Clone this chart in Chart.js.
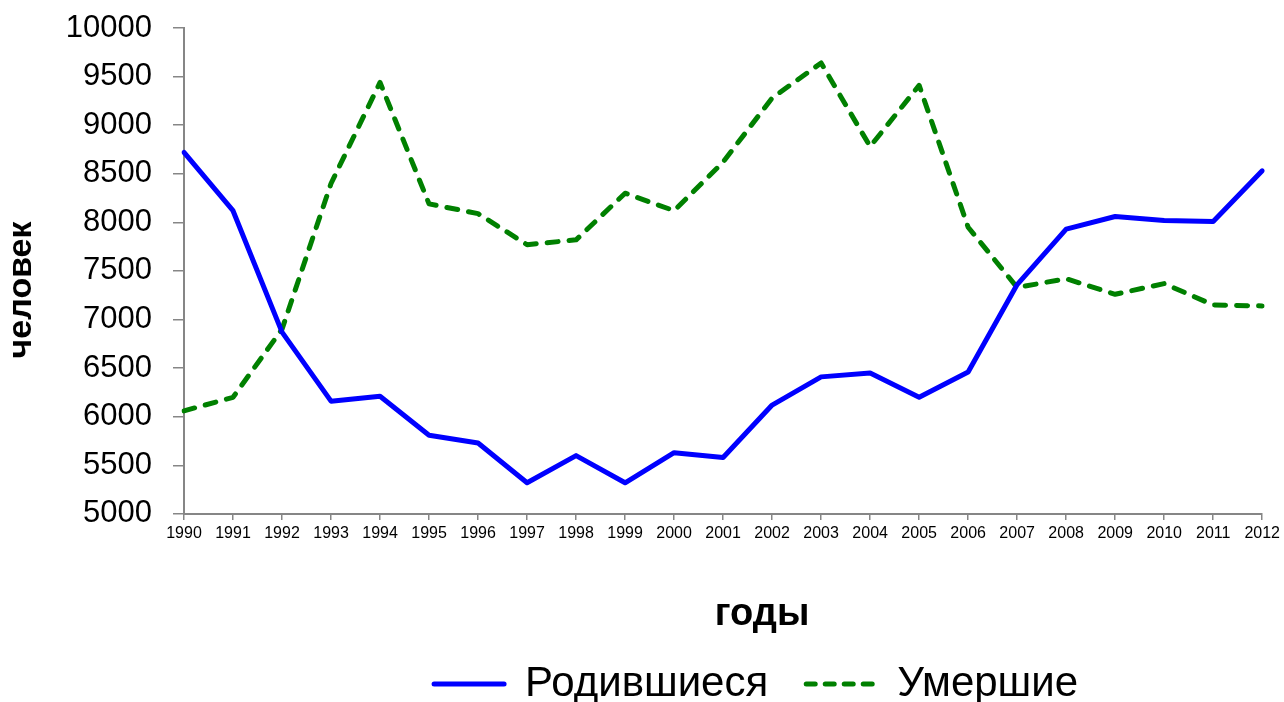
<!DOCTYPE html>
<html>
<head>
<meta charset="utf-8">
<script src="https://cdn.jsdelivr.net/npm/chart.js@4.4.1/dist/chart.umd.min.js"></script>
<style>
  html, body { margin: 0; padding: 0; background: #ffffff; }
  canvas { display: block; }
</style>
</head>
<body>
<canvas id="c" width="1284" height="702"></canvas>
<script>
// ---- data ----
const years = ['1990','1991','1992','1993','1994','1995','1996','1997','1998','1999','2000',
               '2001','2002','2003','2004','2005','2006','2007','2008','2009','2010','2011','2012'];
const births = [8720, 8120, 6870, 6160, 6210, 5810, 5730, 5320, 5600, 5320, 5630,
                5580, 6120, 6410, 6450, 6200, 6460, 7360, 7930, 8060, 8020, 8010, 8530];
const deaths = [6060, 6200, 6900, 8400, 9440, 8190, 8090, 7770, 7820, 8300, 8120,
                8620, 9280, 9640, 8780, 9410, 7950, 7330, 7420, 7260, 7370, 7150, 7140];
const seriesNames = ['Родившиеся', 'Умершие'];
const yMin = 5000, yMax = 10000, yStep = 500;
const xTitle = 'годы';
const yTitle = 'человек';

const FONT = "'Liberation Sans', Arial, sans-serif";
const AXIS = '#868686';

const shiftPlugin = {
  id: 'shiftBoxes',
  afterLayout(chart) {
    const lg = chart.legend;
    if (lg) { lg.left += 33; lg.right += 33; }
    const tb = chart.titleBlock;
    if (tb) { tb.left += 39; tb.right += 39; }
    chart.boxes.forEach(b => {
      if (b !== tb && b.options && b.options.text === yTitle) { b.top += 19; b.bottom += 19; }
    });
  }
};

new Chart(document.getElementById('c'), {
  type: 'line',
  data: {
    labels: years,
    datasets: [
      {
        label: seriesNames[0],
        data: births,
        borderColor: '#0000ff',
        backgroundColor: '#0000ff',
        borderWidth: 5,
        borderCapStyle: 'round',
        borderJoinStyle: 'round',
        pointRadius: 0,
        tension: 0
      },
      {
        label: seriesNames[1],
        data: deaths,
        borderColor: '#008000',
        backgroundColor: '#008000',
        borderWidth: 5,
        borderDash: [11, 11],
        borderCapStyle: 'round',
        borderJoinStyle: 'round',
        pointRadius: 0,
        tension: 0
      }
    ]
  },
  plugins: [shiftPlugin],
  options: {
    responsive: false,
    animation: false,
    devicePixelRatio: 1,
    layout: { padding: { top: 28, right: 21, left: 0, bottom: -13.1 } },
    scales: {
      x: {
        offset: false,
        ticks: { font: { family: FONT, size: 16 }, color: '#000', padding: 4, maxRotation: 0, autoSkip: false },
        grid: { display: true, drawOnChartArea: false, drawTicks: true, tickLength: 6, color: AXIS, lineWidth: 1.5, offset: false },
        border: { display: true, color: AXIS, width: 2 }
      },
      y: {
        min: yMin,
        max: yMax,
        ticks: {
          stepSize: yStep,
          font: { family: FONT, size: 31 },
          color: '#000',
          padding: 21,
          callback: (v) => String(v)
        },
        grid: { display: true, drawOnChartArea: false, drawTicks: true, tickLength: 11, color: AXIS, lineWidth: 1.5 },
        border: { display: true, color: AXIS, width: 2 },
        afterFit(scale) {
          scale.width = 184 - 39;
          scale.paddingTop = 0;
          scale.paddingBottom = 0;
        }
      }
    },
    plugins: {
      tooltip: { enabled: false },
      subtitle: {
        display: true,
        text: yTitle,
        position: 'left',
        fullSize: false,
        font: { family: FONT, size: 34, weight: 'bold', lineHeight: 1 },
        color: '#000',
        padding: { top: 5, bottom: 0 }
      },
      title: {
        display: true,
        text: xTitle,
        position: 'bottom',
        fullSize: false,
        weight: 500,
        font: { family: FONT, size: 38, weight: 'bold', lineHeight: 1 },
        color: '#000',
        padding: { top: 48, bottom: -8 }
      },
      legend: {
        display: true,
        position: 'bottom',
        fullSize: false,
        labels: {
          usePointStyle: true,
          pointStyle: 'line',
          pointStyleWidth: 70,
          padding: 38,
          font: { family: FONT, size: 42 },
          color: '#000',
          generateLabels(chart) {
            const items = Chart.defaults.plugins.legend.labels.generateLabels(chart);
            items.forEach(it => {
              const ds = chart.data.datasets[it.datasetIndex];
              it.lineDash = ds.borderDash ? [9, 10] : [];
              it.lineCap = 'round';
              it.lineWidth = ds.borderWidth;
              it.strokeStyle = ds.borderColor;
              it.pointStyle = 'line';
            });
            return items;
          }
        }
      }
    }
  }
});
</script>
</body>
</html>
